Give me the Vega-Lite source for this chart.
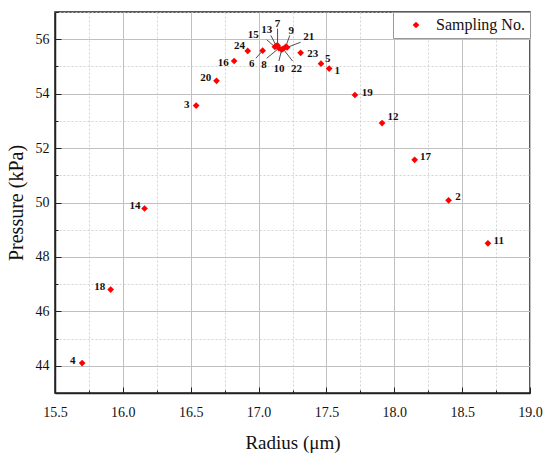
{
  "$schema": "https://vega.github.io/schema/vega-lite/v6.json",
  "width": 475,
  "height": 381,
  "autosize": {"type": "none"},
  "padding": {"left": 55, "top": 12, "right": 20, "bottom": 67},
  "background": "white",
  "config": {
    "view": {"stroke": "#222", "strokeWidth": 1.5},
    "font": "Times New Roman, Liberation Serif, DejaVu Serif, serif"
  },
  "data": {
    "values": [
      {"no": "1", "r": 17.52, "p": 54.92, "lr": 17.58, "lp": 54.85},
      {"no": "2", "r": 18.40, "p": 50.08, "lr": 18.47, "lp": 50.2},
      {"no": "3", "r": 16.54, "p": 53.56, "lr": 16.47, "lp": 53.58},
      {"no": "4", "r": 15.70, "p": 44.1, "lr": 15.63, "lp": 44.18},
      {"no": "5", "r": 17.46, "p": 55.1, "lr": 17.51, "lp": 55.28},
      {"no": "6", "r": 17.03, "p": 55.58, "lr": 16.95, "lp": 55.1, "ar": 16.98, "ap": 55.3},
      {"no": "7", "r": 17.14, "p": 55.77, "lr": 17.14, "lp": 56.57, "ar": 17.14, "ap": 56.39},
      {"no": "8", "r": 17.15, "p": 55.67, "lr": 17.04, "lp": 55.05, "ar": 17.06, "ap": 55.3},
      {"no": "9", "r": 17.20, "p": 55.72, "lr": 17.24, "lp": 56.3, "ar": 17.23, "ap": 56.14},
      {"no": "10", "r": 17.17, "p": 55.62, "lr": 17.15, "lp": 54.9, "ar": 17.15, "ap": 55.2},
      {"no": "11", "r": 18.69, "p": 48.5, "lr": 18.77, "lp": 48.58},
      {"no": "12", "r": 17.91, "p": 52.92, "lr": 17.99, "lp": 53.13},
      {"no": "13", "r": 17.13, "p": 55.76, "lr": 17.06, "lp": 56.35, "ar": 17.09, "ap": 56.14},
      {"no": "14", "r": 16.16, "p": 49.78, "lr": 16.09, "lp": 49.88},
      {"no": "15", "r": 17.12, "p": 55.72, "lr": 16.96, "lp": 56.14, "ar": 17.06, "ap": 55.98},
      {"no": "16", "r": 16.82, "p": 55.2, "lr": 16.74, "lp": 55.13},
      {"no": "17", "r": 18.15, "p": 51.57, "lr": 18.23, "lp": 51.67},
      {"no": "18", "r": 15.91, "p": 46.8, "lr": 15.83, "lp": 46.9},
      {"no": "19", "r": 17.71, "p": 53.95, "lr": 17.8, "lp": 54.04},
      {"no": "20", "r": 16.69, "p": 54.47, "lr": 16.61, "lp": 54.58},
      {"no": "21", "r": 17.21, "p": 55.7, "lr": 17.37, "lp": 56.08, "ar": 17.31, "ap": 55.89},
      {"no": "22", "r": 17.18, "p": 55.65, "lr": 17.28, "lp": 54.9, "ar": 17.25, "ap": 55.2},
      {"no": "23", "r": 17.31, "p": 55.5, "lr": 17.4, "lp": 55.46},
      {"no": "24", "r": 16.92, "p": 55.57, "lr": 16.86, "lp": 55.76}
    ]
  },
  "resolve": {"axis": {"x": "independent", "y": "independent"}},
  "layer": [
    {
      "mark": {"type": "rule", "opacity": 0},
      "encoding": {
        "x": {"field": "r", "type": "quantitative",
          "scale": {"domain": [15.5, 19.0], "nice": false, "zero": false},
          "axis": {"orient": "bottom", "values": [15.75, 16.25, 16.75, 17.25, 17.75, 18.25, 18.75],
            "labels": false, "title": null, "domain": false, "tickSize": -3, "tickColor": "#222", "tickWidth": 1,
            "grid": true, "gridColor": "#c8c8c8", "gridDash": [2, 2], "gridWidth": 0.8}},
        "y": {"field": "p", "type": "quantitative",
          "scale": {"domain": [43, 57], "nice": false, "zero": false},
          "axis": {"orient": "left", "values": [43, 45, 47, 49, 51, 53, 55, 57],
            "labels": false, "title": null, "domain": false, "tickSize": -3, "tickColor": "#222", "tickWidth": 1,
            "grid": true, "gridColor": "#c8c8c8", "gridDash": [2, 2], "gridWidth": 0.8}}
      }
    },
    {
      "transform": [{"filter": "isValid(datum.ar)"}],
      "mark": {"type": "rule", "color": "#222", "strokeWidth": 0.8},
      "encoding": {
        "x": {"field": "ar", "type": "quantitative", "axis": null},
        "y": {"field": "ap", "type": "quantitative", "axis": null},
        "x2": {"field": "r"},
        "y2": {"field": "p"}
      }
    },
    {
      "mark": {"type": "point", "shape": "diamond", "filled": true, "size": 45, "opacity": 1},
      "encoding": {
        "x": {"field": "r", "type": "quantitative",
          "axis": {"orient": "bottom", "values": [15.5, 16.0, 16.5, 17.0, 17.5, 18.0, 18.5, 19.0], "format": ".1f",
            "title": "Radius (μm)", "titleFontSize": 19, "titleFontWeight": "normal",
            "titleColor": "#111", "titlePadding": 14,
            "labelFontSize": 14, "labelColor": "#111", "labelPadding": 18,
            "domainColor": "#222", "domainWidth": 1.5, "tickSize": -6, "tickColor": "#222", "tickWidth": 1,
            "grid": true, "gridColor": "#c0c0c0", "gridWidth": 1, "labelFlush": false}},
        "y": {"field": "p", "type": "quantitative",
          "axis": {"orient": "left", "values": [44, 46, 48, 50, 52, 54, 56],
            "title": "Pressure (kPa)", "titleFontSize": 20, "titleFontWeight": "normal",
            "titleColor": "#111", "titlePadding": 9,
            "labelFontSize": 14, "labelColor": "#111", "labelPadding": 12,
            "domainColor": "#222", "domainWidth": 1.5, "tickSize": -6, "tickColor": "#222", "tickWidth": 1,
            "grid": true, "gridColor": "#c0c0c0", "gridWidth": 1}},
        "color": {"datum": "Sampling No.", "type": "nominal",
          "scale": {"range": ["#ff0000"]},
          "legend": {"title": null, "orient": "top-right", "offset": 0, "symbolType": "diamond", "symbolSize": 45,
            "labelFontSize": 16, "labelColor": "#111",
            "strokeColor": "#999", "fillColor": "white", "padding": 5, "symbolOffset": 10, "labelOffset": 12, "rowPadding": 0}}
      }
    },
    {
      "mark": {"type": "text", "fontWeight": "bold", "fontSize": 11, "color": "#111", "align": "center", "baseline": "middle"},
      "encoding": {
        "x": {"field": "lr", "type": "quantitative", "axis": null},
        "y": {"field": "lp", "type": "quantitative", "axis": null},
        "text": {"field": "no"}
      }
    }
  ]
}
